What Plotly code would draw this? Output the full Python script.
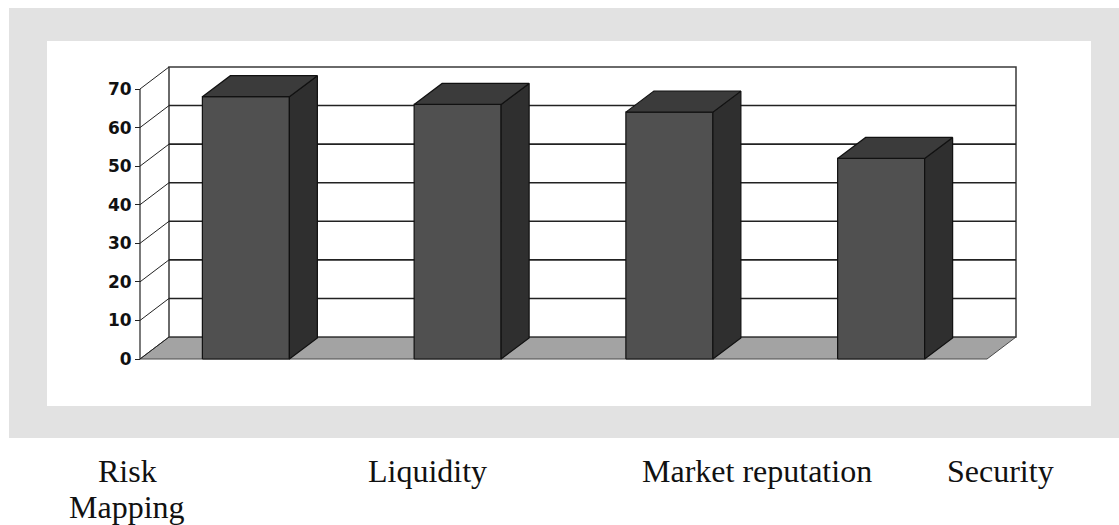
import plotly.graph_objects as go

# ---- data ----
categories = ["Risk<br>Mapping", "Liquidity", "Market reputation", "Security"]
values = [68, 66, 64, 52]
y_ticks = [0, 10, 20, 30, 40, 50, 60, 70]
y_max = 70

# ---- layout geometry (pixels) ----
W_FIG, H_FIG = 1119, 525
L, R, T, B = 47, 28, 41, 119
PW, PH = W_FIG - L - R, H_FIG - T - B
FRONT_X0_PX, FRONT_X1_PX = 140, 987     # front axis px span of categories
ZERO_PX, TOP_PX = 359, 89               # y px of 0 and 70 on front plane
px_per_x = (FRONT_X1_PX - FRONT_X0_PX) / len(categories)
px_per_y = (ZERO_PX - TOP_PX) / y_max
x_lo = -0.5 - (FRONT_X0_PX - L) / px_per_x
x_hi = len(categories) - 0.5 + (L + PW - FRONT_X1_PX) / px_per_x
y_lo = -(T + PH - ZERO_PX) / px_per_y
y_hi = (ZERO_PX - T) / px_per_y

WALL_DX, WALL_DY = 29 / px_per_x, 22 / px_per_y
BAR_DX, BAR_DY = 28 / px_per_x, 21 / px_per_y
BAR_W = 87 / px_per_x

n = len(categories)
xa, xb = -0.5, n - 0.5

fig = go.Figure()

def poly(xs, ys, fill, line_color, lw):
    fig.add_trace(go.Scatter(
        x=list(xs) + [xs[0]], y=list(ys) + [ys[0]], mode="lines",
        fill="toself", fillcolor=fill,
        line=dict(color=line_color, width=lw), hoverinfo="skip", showlegend=False))

def seg(xs, ys, color, lw):
    fig.add_trace(go.Scatter(x=xs, y=ys, mode="lines",
                             line=dict(color=color, width=lw),
                             hoverinfo="skip", showlegend=False))

# floor
poly([xa, xb, xb + WALL_DX, xa + WALL_DX], [0, 0, WALL_DY, WALL_DY], "#a3a3a3", "#4a4a4a", 1)
# back wall
poly([xa + WALL_DX, xb + WALL_DX, xb + WALL_DX, xa + WALL_DX],
     [WALL_DY, WALL_DY, y_max + WALL_DY, y_max + WALL_DY], "white", "#3a3a3a", 1.5)
# gridlines on back wall
for v in y_ticks[1:-1]:
    seg([xa + WALL_DX, xb + WALL_DX], [v + WALL_DY, v + WALL_DY], "#222222", 1.6)
# left side diagonals
for v in y_ticks:
    seg([xa, xa + WALL_DX], [v, v + WALL_DY], "#222222", 1)
# front axis line
seg([xa, xa], [0, y_max], "#222222", 1.2)

# bars
for i, v in enumerate(values):
    x0, x1 = i - BAR_W / 2, i + BAR_W / 2
    poly([x0, x1, x1, x0], [0, 0, v, v], "#505050", "#111111", 1.2)
    poly([x1, x1 + BAR_DX, x1 + BAR_DX, x1], [0, BAR_DY, v + BAR_DY, v], "#2f2f2f", "#111111", 1.2)
    poly([x0, x1, x1 + BAR_DX, x0 + BAR_DX], [v, v, v + BAR_DY, v + BAR_DY], "#3b3b3b", "#111111", 1.2)

# category labels below the chart (one annotation per text line, 36px line pitch)
label_px = [127, 427, 757, 1000]
LABEL_TOP_PX, LINE_PITCH = 451, 36
for txt, px in zip(categories, label_px):
    for j, line in enumerate(txt.split("<br>")):
        top = LABEL_TOP_PX + j * LINE_PITCH
        fig.add_annotation(
            x=(px - L) / PW, y=(T + PH - top) / PH, xref="paper", yref="paper",
            text=line, showarrow=False, xanchor="center", yanchor="top", align="center",
            font=dict(family="Liberation Serif", size=32, color="#111111"))

fig.update_layout(
    width=W_FIG, height=H_FIG, margin=dict(l=L, r=R, t=T, b=B),
    paper_bgcolor="white", plot_bgcolor="white",
    xaxis=dict(range=[x_lo, x_hi], visible=False, fixedrange=True),
    yaxis=dict(range=[y_lo, y_hi], anchor="free", position=(FRONT_X0_PX - L) / PW,
               tickvals=y_ticks, ticktext=[str(t) for t in y_ticks],
               ticks="outside", ticklen=5, tickcolor="#222222", tickwidth=1,
               showgrid=False, zeroline=False, showline=False,
               tickfont=dict(family="DejaVu Sans", size=17, color="#111111", weight="bold")),
    shapes=[
        dict(type="rect", xref="paper", yref="paper", layer="below",
             x0=(9 - L) / PW, x1=(W_FIG - L) / PW,
             y0=(T + PH - 438) / PH, y1=(T + PH - 8) / PH,
             fillcolor="#e2e2e2", line=dict(width=0)),
        dict(type="rect", xref="paper", yref="paper", layer="below",
             x0=0, x1=1, y0=0, y1=1, fillcolor="white", line=dict(width=0)),
    ],
)

fig.write_html("out.html")
